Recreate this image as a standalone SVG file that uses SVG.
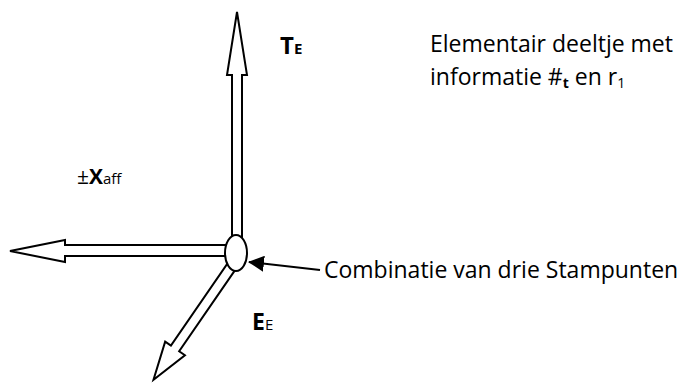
<svg xmlns="http://www.w3.org/2000/svg" width="682" height="383" viewBox="0 0 682 383">
<defs>
<style>
.arrow{fill:#fff;stroke:#000;stroke-width:2;stroke-linejoin:miter}
.t{font-family:"Open Sans","Noto Sans",sans-serif;fill:#000}
.b{font-weight:bold}
</style>
<marker id="ah" markerUnits="userSpaceOnUse" markerWidth="16" markerHeight="16" viewBox="0 0 16 16" refX="15" refY="8" orient="auto">
<path d="M0,0 L16,8 L0,16 Z" fill="#000"/>
</marker>
</defs>
<g id="connectors">
<polygon id="arrow-up" class="arrow" points="232,253 232,75 227,75 237,12 247,75 242,75 242,253"/>
<polygon id="arrow-left" class="arrow" points="236,245 65,245 65,240 10,251 65,262 65,256 236,256"/>
<polygon id="arrow-diag" class="arrow" transform="translate(238,257) rotate(124.55)" points="0,-5 111,-5 111,-12 149,0 111,12 111,5 0,5"/>
<line id="pointer" x1="320" y1="270" x2="249" y2="262" stroke="#000" stroke-width="2" marker-end="url(#ah)"/>
</g>
<g id="node-center">
<ellipse cx="236" cy="253" rx="11" ry="18" fill="#fff" stroke="#000" stroke-width="2"/>
</g>
<g id="label-TE">
<text class="t b" x="280" y="54" font-size="24">T<tspan font-size="15">E</tspan></text>
</g>
<g id="label-X">
<text class="t" x="77" y="184" font-size="21">±<tspan class="b">X</tspan><tspan font-size="15">aff</tspan></text>
</g>
<g id="label-EE">
<text class="t" x="252" y="330" font-size="23"><tspan class="b">E</tspan><tspan font-size="15">E</tspan></text>
</g>
<g id="label-elementair">
<text class="t" x="430" y="52" font-size="23">Elementair deeltje met</text>
<text class="t" x="430" y="85" font-size="23">informatie #<tspan class="b" font-size="14" dy="3">t</tspan><tspan dy="-3"> en r</tspan><tspan font-size="14" dy="3">1</tspan></text>
</g>
<g id="label-combinatie">
<text class="t" x="324" y="278" font-size="23">Combinatie van drie Stampunten</text>
</g>
</svg>
